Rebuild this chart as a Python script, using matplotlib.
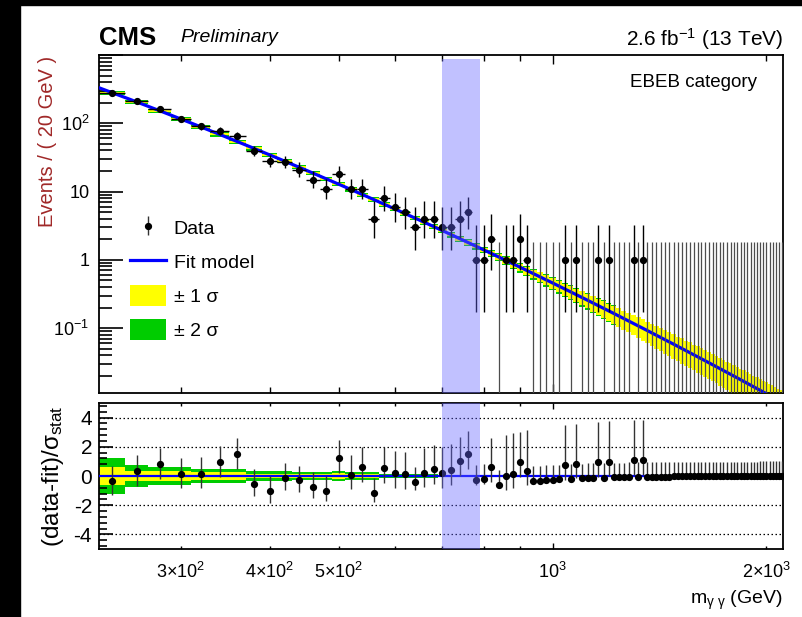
import numpy as np
import matplotlib
matplotlib.use('Agg')
import matplotlib.pyplot as plt
from matplotlib.patches import Rectangle, Patch
from matplotlib.lines import Line2D
import matplotlib.ticker as mticker

plt.rcParams['font.family'] = ['Liberation Sans', 'DejaVu Sans']
plt.rcParams['mathtext.fontset'] = 'custom'
plt.rcParams['mathtext.rm'] = 'Liberation Sans'
plt.rcParams['mathtext.it'] = 'Liberation Sans:italic'
plt.rcParams['mathtext.bf'] = 'Liberation Sans:bold'

#######################
# Data: diphoton mass spectrum, 20 GeV bins from 230 to 2110 GeV.
bin_lo = 230.
bin_width = 20.
counts = [275, 210, 163, 117, 90, 77, 66, 39, 28, 27,
          21, 15, 11, 18, 11, 11, 4, 8, 6, 5,
          3, 4, 4, 3, 3, 4, 5, 1, 1, 2,
          0, 1, 1, 2, 1, 0, 0, 0, 0, 0,
          1, 0, 1, 0, 0, 0, 1, 0, 1, 0,
          0, 0, 0, 1, 0, 1, 0, 0, 0, 0,
          0, 0, 0, 0, 0, 0, 0, 0, 0, 0,
          0, 0, 0, 0, 0, 0, 0, 0, 0, 0,
          0, 0, 0, 0, 0, 0, 0, 0, 0, 0,
          0, 0, 0, 0]

# Fit model: log(N) = p0 + p1*L + p2*L^2, with L = ln(m / 1 TeV)
fit_pars = [-0.7806, -5.099, -0.4213]

# Relative width of the fit uncertainty band, per bin (+-1 sigma)
band1_rel = [0.035, 0.035, 0.035, 0.035, 0.035, 0.035, 0.035, 0.035, 0.035, 0.035,
             0.035, 0.035, 0.035, 0.035, 0.035, 0.035, 0.035,
             0.04, 0.04, 0.045, 0.045, 0.05, 0.05,
             0.055, 0.06, 0.065, 0.07, 0.075, 0.08, 0.09,
             0.10, 0.11, 0.12, 0.13, 0.14, 0.15, 0.16, 0.17, 0.18, 0.19,
             0.20, 0.21, 0.22, 0.23, 0.24, 0.25, 0.26, 0.27, 0.28, 0.29, 0.30,
             0.31, 0.32, 0.33, 0.34, 0.35, 0.35, 0.36, 0.37, 0.37, 0.38,
             0.38, 0.39, 0.39, 0.40, 0.40, 0.41, 0.41, 0.42, 0.42, 0.42,
             0.43, 0.43, 0.43, 0.44, 0.44, 0.44, 0.45, 0.45, 0.45, 0.45,
             0.46, 0.46, 0.46, 0.46, 0.47, 0.47, 0.47, 0.47, 0.47, 0.48,
             0.48, 0.48, 0.48]
# (+-2 sigma), only drawn up to 1240 GeV
band2_rel = [0.07, 0.07, 0.07, 0.07, 0.07, 0.07, 0.07, 0.07, 0.07, 0.07,
             0.07, 0.07, 0.07, 0.07, 0.07, 0.07, 0.07,
             0.075, 0.075, 0.08, 0.08, 0.085, 0.085,
             0.09, 0.095, 0.10, 0.105, 0.11, 0.115, 0.125,
             0.135, 0.145, 0.155, 0.165, 0.175, 0.185, 0.195, 0.205, 0.215, 0.225,
             0.235, 0.245, 0.255, 0.265, 0.275, 0.285, 0.295, 0.305, 0.315, 0.325,
             0.335]

# Fit uncertainty band in the pull panel (+-1 sigma, in units of sigma_stat)
pull_band1 = [0.63, 0.36, 0.32, 0.32, 0.24, 0.24, 0.24, 0.16, 0.16, 0.16,
              0.14, 0.14, 0.14, 0.18, 0.13, 0.13, 0.12, 0.06, 0.06, 0.06,
              0.06, 0.06, 0.06, 0.05, 0.05, 0.05, 0.05, 0.05, 0.04, 0.04]

# Signal window
window = [700., 790.]

#######################
nbins = len(counts)
edges = bin_lo + bin_width * np.arange(nbins + 1)
centers = 0.5 * (edges[1:] + edges[:-1])
n = np.array(counts, dtype=float)

L = np.log(centers / 1000.)
fit = np.exp(fit_pars[0] + fit_pars[1] * L + fit_pars[2] * L**2)
mfine = np.linspace(edges[0], edges[-1], 600)
Lf = np.log(mfine / 1000.)
fit_fine = np.exp(fit_pars[0] + fit_pars[1] * Lf + fit_pars[2] * Lf**2)

# Poisson 68% intervals (Wilson-Hilferty form of the Garwood interval)
safe = np.where(n > 0, n, 1.)
lo = np.where(n > 0, safe * (1 - 1/(9*safe) - 1/(3*np.sqrt(safe)))**3, 0.)
hi = (n + 1) * (1 - 1/(9*(n + 1)) + 1/(3*np.sqrt(n + 1)))**3
err_lo = n - lo
err_hi = hi - n

# Pulls, normalised with the error on the side of the fit
resid = n - fit
norm = np.where(resid > 0, err_lo, err_hi)
pull = resid / norm
pull_lo = err_lo / norm
pull_hi = err_hi / norm

band1 = np.array(band1_rel) * fit
band2 = np.full(nbins, np.nan)
band2[:len(band2_rel)] = np.array(band2_rel) * fit[:len(band2_rel)]
pb1 = np.zeros(nbins)
pb1[:len(pull_band1)] = pull_band1
pb2 = 2 * pb1

#######################
fig = plt.figure(figsize=(8.03, 6.17), dpi=100)
W, H = 803., 617.
ax = fig.add_axes([99/W, 1 - 393/H, 684/W, 338/H])
rx = fig.add_axes([99/W, 1 - 549/H, 684/W, 146/H])

# Black border of the canvas
fig.patches.append(Rectangle((0, 0), 20/W, 1, transform=fig.transFigure,
                             color='black', zorder=-1))
fig.patches.append(Rectangle((0, 1 - 5/H), 1, 5/H, transform=fig.transFigure,
                             color='black', zorder=-1))

# ---- top panel
def stepped(vals):
    return np.append(vals, vals[-1])

ax.fill_between(edges, stepped(fit - band2), stepped(fit + band2), step='post',
                color='#00cc00', lw=0, zorder=1)
ax.fill_between(edges, stepped(fit - band1), stepped(fit + band1), step='post',
                color='#ffff00', lw=0, zorder=2)
ax.plot(mfine, fit_fine, color='#0000ff', lw=2.3, zorder=3)

has = n > 0
ax.errorbar(centers[has], n[has], xerr=bin_width/2,
            yerr=[err_lo[has], err_hi[has]], fmt='o', ms=4.2, color='black',
            elinewidth=1.0, capsize=0, zorder=4)
ax.vlines(centers[~has], 1e-3, hi[~has], color='0.3', lw=0.9, zorder=4)

ax.axvspan(window[0], window[1], ymin=0, ymax=0.988, color='#6666ff',
           alpha=0.4, lw=0, zorder=6)

ax.set_xscale('log')
ax.set_yscale('log')
ax.set_xlim(edges[0], edges[-1])
ax.set_ylim(0.0112, 1000)

# ---- pull panel
rx.fill_between(edges, stepped(-pb2), stepped(pb2), step='post',
                color='#00cc00', lw=0, zorder=1)
rx.fill_between(edges, stepped(-pb1), stepped(pb1), step='post',
                color='#ffff00', lw=0, zorder=2)
rx.axhline(0, color='#0000ff', lw=1.6, zorder=3)
for yv in [-4, -2, 2, 4]:
    rx.axhline(yv, color='black', lw=0.9, ls=(0, (1.2, 2.0)), zorder=0)
h_data = rx.errorbar(centers, pull, yerr=[pull_lo, pull_hi], fmt='o', ms=4.2,
                     color='black', ecolor='0.2', elinewidth=1.0, capsize=0,
                     zorder=4)
rx.axvspan(window[0], window[1], color='#6666ff', alpha=0.4, lw=0, zorder=6)
rx.set_xscale('log')
rx.set_xlim(edges[0], edges[-1])
rx.set_ylim(-5, 5)

# ---- ticks
xmaj = [1000]
xmin = [300, 400, 500, 600, 700, 800, 900, 2000]
xmin_lab = [r'$3{\times}10^{2}$', r'$4{\times}10^{2}$', r'$5{\times}10^{2}$',
            '', '', '', '', r'$2{\times}10^{3}$']
for a in (ax, rx):
    a.xaxis.set_major_locator(mticker.FixedLocator(xmaj))
    a.xaxis.set_minor_locator(mticker.FixedLocator(xmin))
    a.tick_params(axis='x', which='both', direction='in', top=True,
                  bottom=True, width=1.0)
    for s in a.spines.values():
        s.set_linewidth(1.3)
ax.tick_params(axis='x', which='major', length=6.5)
ax.tick_params(axis='x', which='minor', length=4)
ax.xaxis.set_major_formatter(mticker.NullFormatter())
ax.xaxis.set_minor_formatter(mticker.NullFormatter())
rx.tick_params(axis='x', which='major', length=4.5, labelsize=13, pad=9)
rx.tick_params(axis='x', which='minor', length=2.5, labelsize=13, pad=9)
rx.xaxis.set_major_formatter(mticker.FixedFormatter([r'$10^{3}$']))
rx.xaxis.set_minor_formatter(mticker.FixedFormatter(xmin_lab))

ax.yaxis.set_major_locator(mticker.LogLocator(base=10, numticks=10))
ax.yaxis.set_minor_locator(mticker.LogLocator(base=10, subs=np.arange(2, 10),
                                              numticks=20))
ylabs = {0.1: r'$10^{-1}$', 1: '1', 10: '10', 100: r'$10^{2}$'}
ax.yaxis.set_major_formatter(mticker.FuncFormatter(
    lambda v, p: ylabs.get(round(v, 3) if v < 1 else int(round(v)), '')))
ax.yaxis.set_minor_formatter(mticker.NullFormatter())
ax.tick_params(axis='y', which='major', direction='in', length=17, width=1.2,
               labelsize=13, pad=7)
ax.tick_params(axis='y', which='minor', direction='in', length=9, width=1.2)

rx.yaxis.set_major_locator(mticker.FixedLocator([-4, -2, 0, 2, 4]))
rx.yaxis.set_minor_locator(mticker.MultipleLocator(0.4))
rx.yaxis.set_major_formatter(mticker.FixedFormatter(['-4', '-2', '0', '2', '4']))
rx.tick_params(axis='y', which='major', direction='in', length=10, width=1.2,
               labelsize=15, pad=5)
rx.tick_params(axis='y', which='minor', direction='in', length=5.5, width=1.2)

# ---- labels and captions
ax.set_ylabel('Events / ( 20 GeV )', fontsize=14.5, color='#a02828')
ax.yaxis.set_label_coords(-0.062, 0.745)
rx.set_ylabel(r'(data-fit)/$\mathrm{\sigma}_{\mathrm{stat}}$', fontsize=17.5)
rx.yaxis.set_label_coords(-0.048, 0.5)
rx.set_xlabel(r'm$_{\mathrm{\gamma}\ \mathrm{\gamma}}$ (GeV)', fontsize=14,
              ha='right')
rx.xaxis.set_label_coords(1.0, -0.27)

fig.text(99/W, 1 - 38/H, 'CMS', fontsize=18.5, fontweight='bold',
         va='center', ha='left')
fig.text(180/W, 1 - 37/H, 'Preliminary', fontsize=14, style='italic',
         va='center', ha='left')
fig.text(783/W, 1 - 39/H, r'2.6 fb$^{-1}$ (13 TeV)', fontsize=15,
         va='center', ha='right')
ax.text(0.962, 0.92, 'EBEB category', transform=ax.transAxes, fontsize=13.5,
        ha='right', va='center')

handles = [h_data,
           Line2D([], [], color='#0000ff', lw=2.3),
           Patch(facecolor='#ffff00', edgecolor='none'),
           Patch(facecolor='#00cc00', edgecolor='none')]
labels = ['Data', 'Fit model', '± 1 σ', '± 2 σ']
ax.legend(handles, labels, loc='upper left', bbox_to_anchor=(0.045, 0.52),
          frameon=False, fontsize=14, handlelength=1.85, handleheight=1.25,
          handletextpad=0.4, labelspacing=0.68, borderpad=0, borderaxespad=0)

fig.savefig('out.png', dpi=100)
